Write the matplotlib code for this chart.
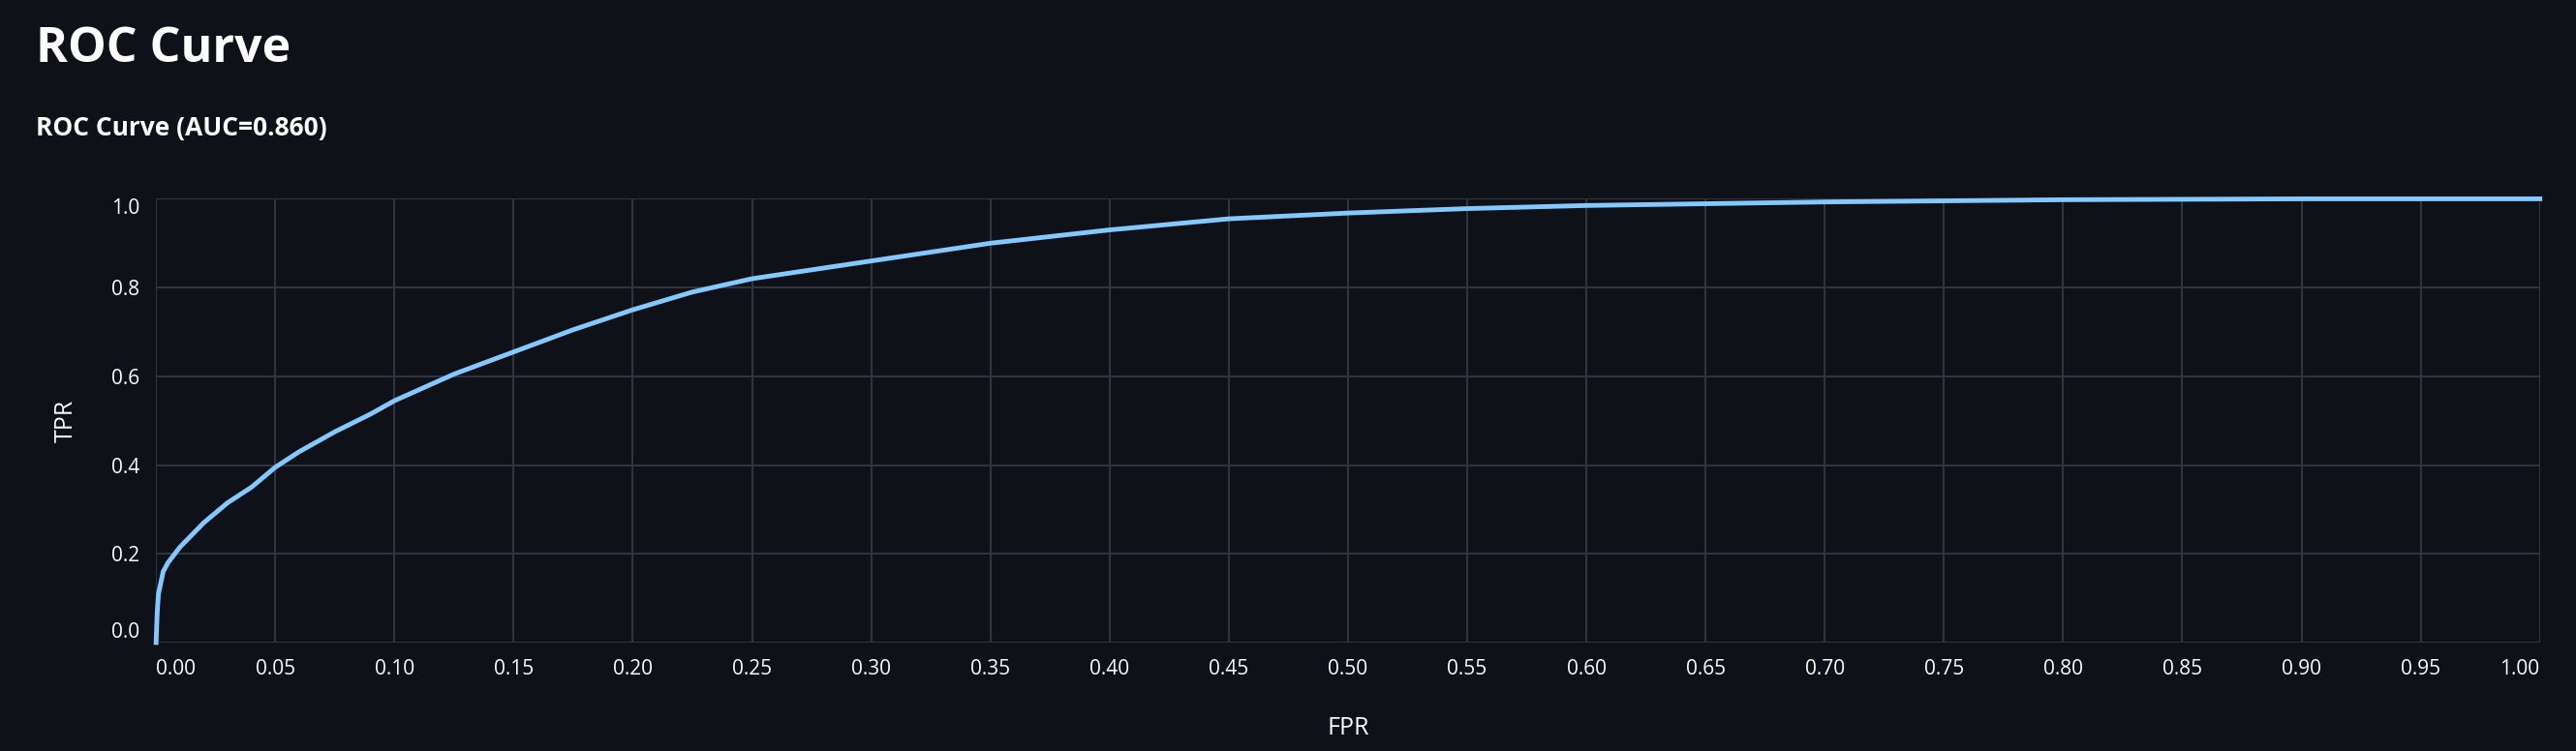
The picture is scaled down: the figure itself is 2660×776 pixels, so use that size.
import matplotlib
matplotlib.use("Agg")
import matplotlib.pyplot as plt
import numpy as np

fpr = [0.0, 0.0005, 0.001, 0.003, 0.005, 0.01, 0.02, 0.03, 0.04, 0.05, 0.06, 0.075, 0.09, 0.10, 0.125, 0.15, 0.175, 0.20, 0.225, 0.25, 0.30, 0.35, 0.40, 0.45, 0.50, 0.55, 0.60, 0.70, 0.80, 0.90, 1.0]
tpr = [0.0, 0.07, 0.11, 0.16, 0.18, 0.215, 0.27, 0.315, 0.35, 0.395, 0.43, 0.475, 0.515, 0.545, 0.605, 0.655, 0.705, 0.75, 0.79, 0.82, 0.86, 0.90, 0.93, 0.955, 0.968, 0.978, 0.985, 0.993, 0.998, 1.0, 1.0]
xticks = [round(0.05 * i, 2) for i in range(21)]
yticks = [0.0, 0.2, 0.4, 0.6, 0.8, 1.0]

bg = "#0e1117"
fig = plt.figure(figsize=(26.6, 7.76), dpi=100, facecolor=bg)
plt.rcParams['font.family'] = ['Open Sans', 'DejaVu Sans']
fig.text(22/1568, 1-30/457, "ROC Curve", color="white", fontsize=36, fontweight="bold", va="center")
fig.text(22/1568, 1-78/457, "ROC Curve (AUC=0.860)", color="white", fontsize=19, fontweight="bold", va="center")

ax = fig.add_axes([95/1568, 1-391/457, (1546-95)/1568, (391-121)/457], facecolor=bg)
ax.plot(fpr, tpr, color="#83c9ff", lw=3.5, clip_on=False)
ax.set_xlim(0, 1)
ax.set_ylim(0, 1)
ax.set_xticks(xticks)
ax.set_xticklabels([f"{t:.2f}" for t in xticks])
ax.set_yticks(yticks)
ax.set_yticklabels([f"{t:.1f}" for t in yticks])
ax.grid(True, color="#31333f", lw=1.5)
ax.set_axisbelow(True)
for s in ax.spines.values():
    s.set_visible(False)
ax.tick_params(colors="#fafafa", labelsize=15, length=0, pad=12)
xl = ax.get_xticklabels()
xl[0].set_ha("left"); xl[-1].set_ha("right")
yl = ax.get_yticklabels()
yl[0].set_va("bottom"); yl[-1].set_va("top")
ax.set_xlabel("FPR", color="#fafafa", fontsize=18, labelpad=28)
ax.set_ylabel("TPR", color="#fafafa", fontsize=18, labelpad=25)
fig.savefig("out.png", facecolor=bg)
